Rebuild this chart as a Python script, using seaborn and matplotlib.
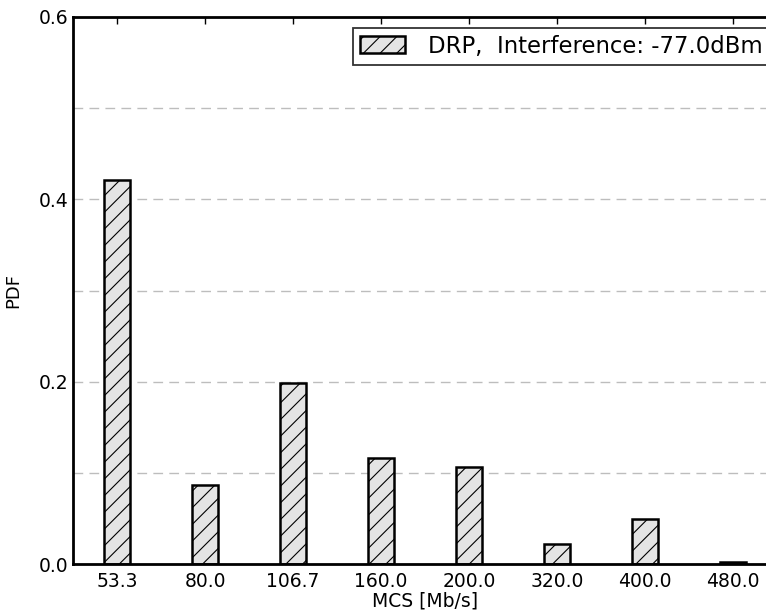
import matplotlib
matplotlib.use('Agg')
import matplotlib.pyplot as plt
import seaborn as sns
import pandas as pd
from matplotlib.ticker import MultipleLocator, FormatStrFormatter

# data
mcs_labels = ['53.3', '80.0', '106.7', '160.0', '200.0', '320.0', '400.0', '480.0']
pdf_values = [0.421, 0.087, 0.198, 0.116, 0.106, 0.022, 0.049, 0.002]
legend_label = 'DRP,  Interference: -77.0dBm'

df = pd.DataFrame({'MCS': mcs_labels, 'PDF': pdf_values})

sns.set_theme(style='white')
plt.rcParams['font.family'] = ['DejaVu Sans']
plt.rcParams['text.color'] = 'black'
plt.rcParams['axes.labelcolor'] = 'black'
plt.rcParams['hatch.linewidth'] = 0.8
plt.rcParams['hatch.color'] = '#3a3a3a'

fig = plt.figure(figsize=(7.66, 6.13), dpi=100)
ax = fig.add_axes([0.0953, 0.0799, 0.9191, 0.8924])

sns.barplot(data=df, x='MCS', y='PDF', order=mcs_labels, width=0.3,
            color='#e4e4e4', saturation=1, edgecolor='black', linewidth=1.8,
            label=legend_label, ax=ax)
for p in ax.patches:
    p.set_hatch('//')

ax.set_xlim(-0.5, 7.5)
ax.set_ylim(0, 0.6)
ax.yaxis.set_major_locator(MultipleLocator(0.2))
ax.yaxis.set_minor_locator(MultipleLocator(0.1))
ax.yaxis.set_major_formatter(FormatStrFormatter('%.1f'))
ax.grid(True, axis='y', which='both', linestyle=(0, (7, 4.5)), color='#bdbdbd', linewidth=1.0)
ax.set_axisbelow(True)

for s in ax.spines.values():
    s.set_linewidth(2.0)
    s.set_color('black')

ax.tick_params(axis='both', which='major', direction='in', length=5, width=1,
               top=True, right=True, labelsize=13.5, colors='black')
ax.tick_params(axis='y', which='major', pad=3)
ax.tick_params(axis='x', which='major', pad=6)
ax.tick_params(axis='y', which='minor', direction='in', length=0)

ax.set_xlabel('MCS [Mb/s]', fontsize=13.5, labelpad=0)
ax.set_ylabel('PDF', fontsize=13, labelpad=12)

leg = ax.legend(loc='upper left', bbox_to_anchor=(0.3977, 0.980), borderaxespad=0,
                fontsize=16.4, fancybox=False, frameon=True, borderpad=0.3,
                handlelength=2.0, handleheight=0.75, handletextpad=1.0)
leg.get_frame().set_edgecolor('black')
leg.get_frame().set_linewidth(1.3)

fig.savefig('out.png', dpi=100)
